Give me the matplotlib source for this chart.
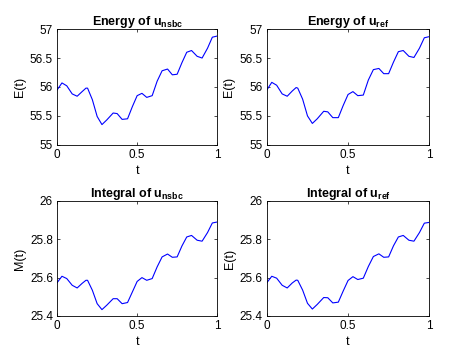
import matplotlib
matplotlib.use('Agg')
from matplotlib import pyplot as plt

plt.rcParams['font.family'] = ['Liberation Sans', 'DejaVu Sans']
plt.rcParams['mathtext.fontset'] = 'custom'
plt.rcParams['mathtext.rm'] = 'Liberation Sans'
plt.rcParams['mathtext.bf'] = 'Liberation Sans:bold'
plt.rcParams['mathtext.it'] = 'Liberation Sans:italic'

t = [0.0, 0.03, 0.06, 0.094, 0.125, 0.156, 0.18, 0.19, 0.22, 0.25, 0.28, 0.31,
     0.35, 0.375, 0.406, 0.44, 0.47, 0.5, 0.53, 0.56, 0.594, 0.625, 0.656, 0.69,
     0.72, 0.75, 0.78, 0.81, 0.84, 0.875, 0.906, 0.94, 0.97, 1.0]

energy_nsbc = [55.95, 56.07, 56.02, 55.88, 55.84, 55.92, 55.98, 55.98, 55.78, 55.49,
               55.35, 55.43, 55.55, 55.54, 55.44, 55.45, 55.66, 55.85, 55.89, 55.82,
               55.85, 56.10, 56.28, 56.31, 56.21, 56.22, 56.42, 56.60, 56.63, 56.53,
               56.50, 56.67, 56.86, 56.88]
energy_ref = [55.95, 56.08, 56.03, 55.88, 55.84, 55.93, 55.99, 55.98, 55.79, 55.50,
              55.37, 55.45, 55.58, 55.57, 55.47, 55.47, 55.68, 55.87, 55.92, 55.85,
              55.86, 56.12, 56.30, 56.32, 56.23, 56.23, 56.43, 56.61, 56.63, 56.53,
              56.51, 56.67, 56.85, 56.87]
integral_nsbc = [25.574, 25.607, 25.595, 25.56, 25.546, 25.57, 25.586, 25.586, 25.534,
                 25.464, 25.433, 25.456, 25.49, 25.49, 25.464, 25.47, 25.525, 25.58,
                 25.60, 25.586, 25.595, 25.656, 25.708, 25.723, 25.706, 25.708, 25.765,
                 25.812, 25.82, 25.795, 25.79, 25.835, 25.885, 25.89]
integral_ref = [25.574, 25.607, 25.597, 25.56, 25.546, 25.572, 25.587, 25.586, 25.535,
                25.466, 25.436, 25.46, 25.496, 25.495, 25.468, 25.472, 25.53, 25.585,
                25.605, 25.59, 25.597, 25.658, 25.71, 25.724, 25.706, 25.708, 25.766,
                25.812, 25.82, 25.795, 25.79, 25.835, 25.884, 25.888]

titles = [r'Energy of $\mathbf{u_{nsbc}}$', r'Energy of $\mathbf{u_{ref}}$',
          r'Integral of $\mathbf{u_{nsbc}}$', r'Integral of $\mathbf{u_{ref}}$']
ylabels = ['E(t)', 'E(t)', 'M(t)', 'E(t)']
series = [energy_nsbc, energy_ref, integral_nsbc, integral_ref]


def draw_panel(fig, rect, title, ylabel, y, ylim, yticks, yticklabels):
    ax = fig.add_axes(rect)
    ax.plot(t, y, color='#0000ff', linewidth=0.8)
    ax.set_xlim(0, 1)
    ax.set_ylim(*ylim)
    ax.set_xticks([0, 0.5, 1])
    ax.set_xticklabels(['0', '0.5', '1'])
    ax.set_yticks(yticks)
    ax.set_yticklabels(yticklabels)
    ax.tick_params(direction='in', top=True, right=True, labelsize=8.5,
                   length=2.5, width=0.5, pad=3)
    for s in ax.spines.values():
        s.set_linewidth(0.6)
    ax.set_title(title, fontsize=9, fontweight='bold', pad=3)
    ax.set_xlabel('t', fontsize=9, labelpad=3)
    ax.set_ylabel(ylabel, fontsize=9, labelpad=3)
    return ax


fig = plt.figure(figsize=(4.61, 3.55), dpi=100)
rects = [[0.124, 0.592, 0.347, 0.326], [0.579, 0.592, 0.352, 0.326],
         [0.124, 0.110, 0.347, 0.324], [0.579, 0.110, 0.352, 0.324]]
e_ticks = [55, 55.5, 56, 56.5, 57]
e_labels = ['55', '55.5', '56', '56.5', '57']
m_ticks = [25.4, 25.6, 25.8, 26]
m_labels = ['25.4', '25.6', '25.8', '26']
for i in range(4):
    if i < 2:
        draw_panel(fig, rects[i], titles[i], ylabels[i], series[i], (55, 57), e_ticks, e_labels)
    else:
        draw_panel(fig, rects[i], titles[i], ylabels[i], series[i], (25.4, 26), m_ticks, m_labels)

plt.savefig('out.png', dpi=100)
